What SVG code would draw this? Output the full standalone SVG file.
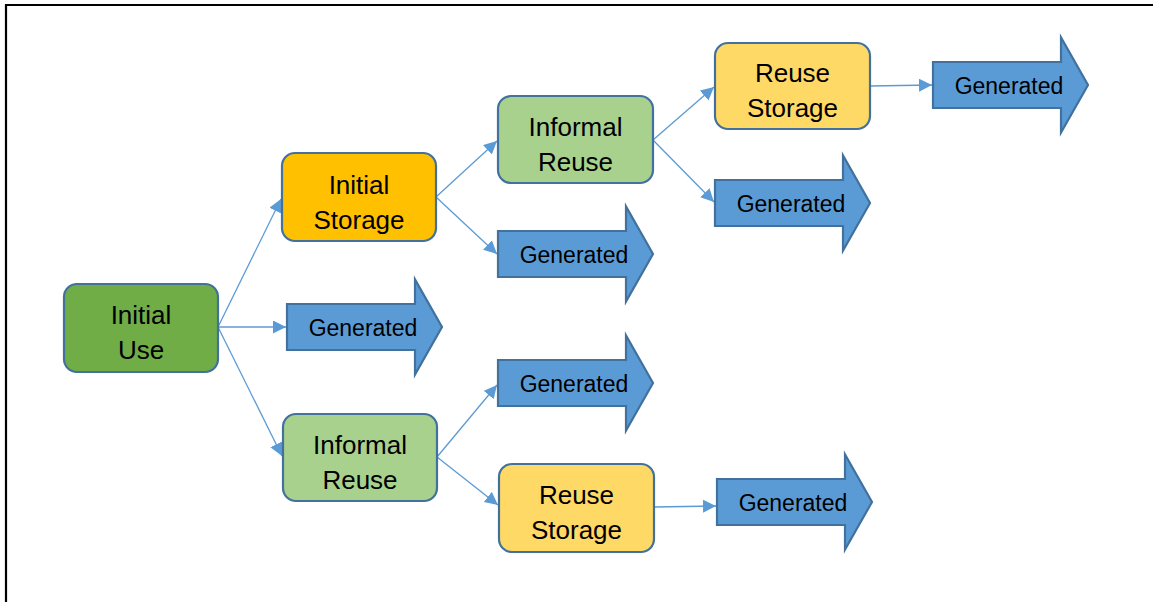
<svg xmlns="http://www.w3.org/2000/svg" width="1153" height="602" viewBox="0 0 1153 602">
  <style>
    .box { stroke: #41719C; stroke-width: 2.2; }
    .use { fill: #70AD47; }
    .store { fill: #FFC000; }
    .inf { fill: #A9D18E; }
    .reuse { fill: #FFD966; }
    .gen { fill: #5B9BD5; stroke: #41719C; stroke-width: 2.2; stroke-linejoin: miter; }
    .lbl { font-family: "Liberation Sans", Arial, sans-serif; font-size: 26px; fill: #000; text-anchor: middle; }
    .glbl { font-family: "Liberation Sans", Arial, sans-serif; font-size: 23px; fill: #000; text-anchor: middle; }
    .link { stroke: #5B9BD5; stroke-width: 1.3; fill: none; marker-end: url(#tip); }
  </style>
  <defs>
    <marker id="tip" markerUnits="userSpaceOnUse" markerWidth="14" markerHeight="14" refX="13" refY="6.5" orient="auto">
      <path d="M0,0 L13,6.5 L0,13 z" fill="#5B9BD5"/>
    </marker>
    <!-- block arrow shape: 155 wide, 95 tall head, 46 tall body -->
    <path id="blockArrow" d="M0,-23 H128 V-47.5 L155,0 L128,47.5 V23 H0 Z"/>
  </defs>

  <rect width="1153" height="602" fill="#fff"/>
  <!-- frame -->
  <path d="M6,602 V5 H1153" fill="none" stroke="#000" stroke-width="2.2"/>

  <g id="connectors">
    <line class="link" x1="218" y1="327" x2="281" y2="199"/>
    <line class="link" x1="218" y1="327" x2="286" y2="327"/>
    <line class="link" x1="218" y1="327" x2="282" y2="456"/>
    <line class="link" x1="436" y1="197" x2="497" y2="141"/>
    <line class="link" x1="436" y1="197" x2="497" y2="254"/>
    <line class="link" x1="653" y1="140" x2="714" y2="87"/>
    <line class="link" x1="653" y1="140" x2="714" y2="202"/>
    <line class="link" x1="870" y1="86" x2="932" y2="85"/>
    <line class="link" x1="437" y1="457" x2="497" y2="385"/>
    <line class="link" x1="437" y1="457" x2="498" y2="505"/>
    <line class="link" x1="654" y1="507" x2="716" y2="506"/>
  </g>

  <g id="initial-use">
    <rect class="box use" x="64" y="284" width="154" height="88" rx="13"/>
    <text class="lbl" x="141" y="323.5">Initial</text>
    <text class="lbl" x="141" y="358.5">Use</text>
  </g>

  <g id="initial-storage">
    <rect class="box store" x="282" y="153" width="154" height="88" rx="13"/>
    <text class="lbl" x="359" y="193.5">Initial</text>
    <text class="lbl" x="359" y="228.5">Storage</text>
  </g>

  <g id="informal-reuse-1">
    <rect class="box inf" x="498" y="96" width="155" height="87" rx="13"/>
    <text class="lbl" x="575.5" y="136">Informal</text>
    <text class="lbl" x="575.5" y="171">Reuse</text>
  </g>

  <g id="reuse-storage-1">
    <rect class="box reuse" x="715" y="43" width="155" height="86" rx="13"/>
    <text class="lbl" x="792.5" y="82">Reuse</text>
    <text class="lbl" x="792.5" y="117">Storage</text>
  </g>

  <g id="informal-reuse-2">
    <rect class="box inf" x="283" y="414" width="154" height="87" rx="13"/>
    <text class="lbl" x="360" y="454">Informal</text>
    <text class="lbl" x="360" y="489">Reuse</text>
  </g>

  <g id="reuse-storage-2">
    <rect class="box reuse" x="499" y="464" width="155" height="88" rx="13"/>
    <text class="lbl" x="576.5" y="503.5">Reuse</text>
    <text class="lbl" x="576.5" y="538.5">Storage</text>
  </g>

  <g id="generated-1">
    <use href="#blockArrow" class="gen" transform="translate(287,327)"/>
    <text class="glbl" x="363" y="336">Generated</text>
  </g>

  <g id="generated-2">
    <use href="#blockArrow" class="gen" transform="translate(498,254)"/>
    <text class="glbl" x="574" y="263">Generated</text>
  </g>

  <g id="generated-3">
    <use href="#blockArrow" class="gen" transform="translate(715,203)"/>
    <text class="glbl" x="791" y="212">Generated</text>
  </g>

  <g id="generated-4">
    <use href="#blockArrow" class="gen" transform="translate(933,85)"/>
    <text class="glbl" x="1009" y="94">Generated</text>
  </g>

  <g id="generated-5">
    <use href="#blockArrow" class="gen" transform="translate(498,383)"/>
    <text class="glbl" x="574" y="392">Generated</text>
  </g>

  <g id="generated-6">
    <use href="#blockArrow" class="gen" transform="translate(717,502)"/>
    <text class="glbl" x="793" y="511">Generated</text>
  </g>
</svg>
